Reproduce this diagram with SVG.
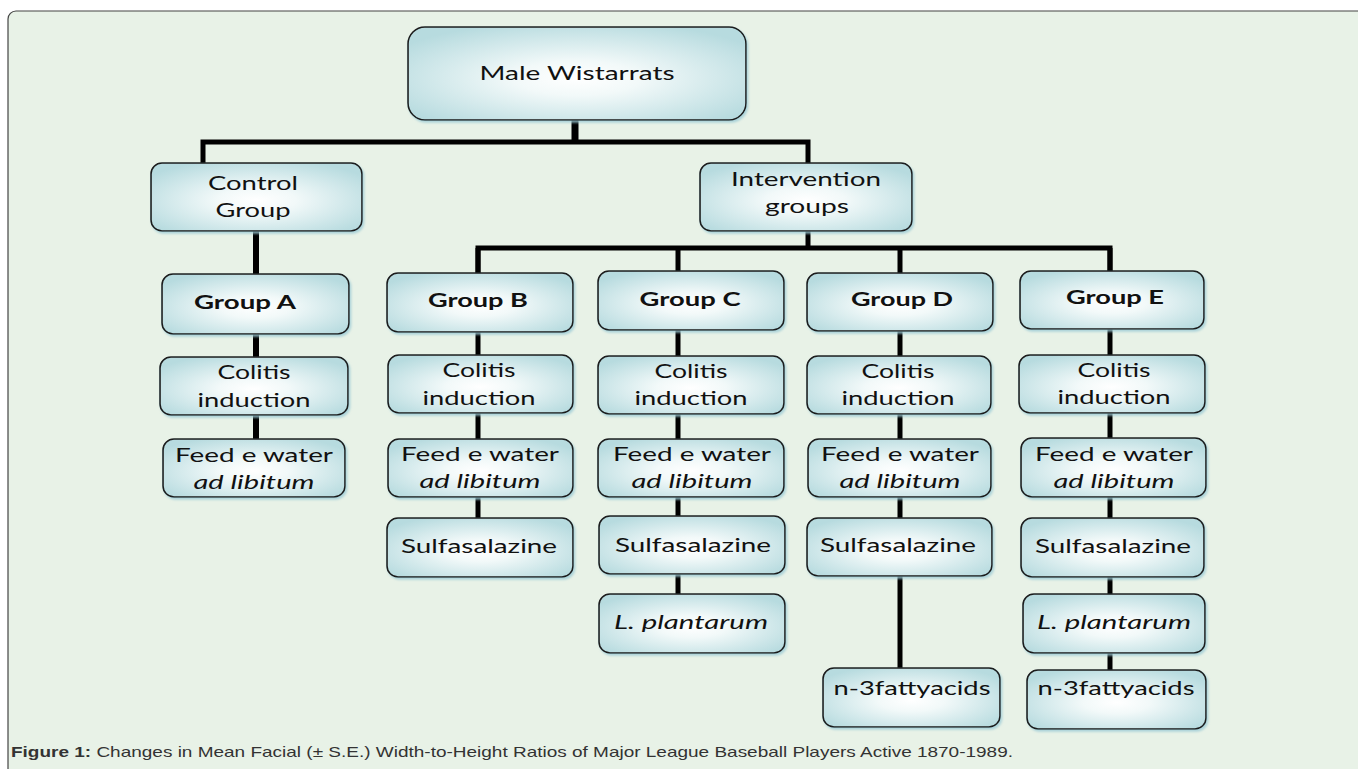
<svg xmlns="http://www.w3.org/2000/svg" width="1358" height="769" viewBox="0 0 1358 769">
<defs>
<radialGradient id="g" cx="50%" cy="55%" r="62%">
<stop offset="0" stop-color="#ffffff"/>
<stop offset="0.3" stop-color="#f2f9f9"/>
<stop offset="1" stop-color="#b7dbdf"/>
</radialGradient>
<filter id="sh" x="-5%" y="-5%" width="112%" height="115%">
<feDropShadow dx="1.5" dy="2" stdDeviation="0.8" flood-color="#9ccbd6" flood-opacity="0.8"/>
</filter>
</defs>
<style>
.b{fill:url(#g);stroke:#1b1b1b;stroke-width:1.6;filter:url(#sh)}
.t{font-family:Lato,"Open Sans",sans-serif;font-size:18.5px;fill:#111;text-anchor:middle}
.bold{font-weight:bold}
.it{font-style:italic}
.c{stroke:#000;fill:none;stroke-linejoin:miter;stroke-linecap:butt}
</style>
<rect x="0" y="0" width="1358" height="769" fill="#ffffff"/>
<rect x="8" y="11" width="1370" height="790" rx="8" fill="#e8f2e7" stroke="#444" stroke-width="1.2"/>
<g id="connectors">
<line class="c" x1="575" y1="120" x2="575" y2="144" stroke-width="7"/>
<path class="c" d="M203,163 V142 H808 V163" stroke-width="5"/>
<line class="c" x1="256" y1="231" x2="256" y2="440" stroke-width="6"/>
<line class="c" x1="808" y1="231" x2="808" y2="250" stroke-width="5"/>
<path class="c" d="M478,274 V248 H1110 V274" stroke-width="5"/>
<line class="c" x1="478" y1="248" x2="478" y2="519" stroke-width="5"/>
<line class="c" x1="678" y1="248" x2="678" y2="595" stroke-width="5"/>
<line class="c" x1="900" y1="248" x2="900" y2="669" stroke-width="5"/>
<line class="c" x1="1110" y1="248" x2="1110" y2="671" stroke-width="5"/>
</g>
<g id="n-top"><rect class="b" x="408" y="27" width="338" height="93" rx="17"/><text class="t" x="577" y="80" textLength="195" lengthAdjust="spacingAndGlyphs">Male Wistarrats</text></g>
<g id="n-control"><rect class="b" x="151" y="163" width="211" height="68" rx="11"/><text class="t" x="253" y="190" textLength="90" lengthAdjust="spacingAndGlyphs">Control</text><text class="t" x="253" y="217" textLength="75" lengthAdjust="spacingAndGlyphs">Group</text></g>
<g id="n-interv"><rect class="b" x="700" y="163" width="212" height="68" rx="11"/><text class="t" x="806" y="186" textLength="150" lengthAdjust="spacingAndGlyphs">Intervention</text><text class="t" x="807" y="213" textLength="84" lengthAdjust="spacingAndGlyphs">groups</text></g>

<g id="n-gA"><rect class="b" x="162" y="274" width="187" height="60" rx="11"/><text class="t bold" x="245" y="309" textLength="102" lengthAdjust="spacingAndGlyphs">Group A</text></g>
<g id="n-cA"><rect class="b" x="160" y="357" width="188" height="58" rx="11"/><text class="t" x="254" y="379" textLength="73" lengthAdjust="spacingAndGlyphs">Colitis</text><text class="t" x="254" y="407" textLength="113" lengthAdjust="spacingAndGlyphs">induction</text></g>
<g id="n-fA"><rect class="b" x="163" y="439" width="182" height="58" rx="11"/><text class="t" x="254" y="462" textLength="158" lengthAdjust="spacingAndGlyphs">Feed e water</text><text class="t it" x="254" y="489" textLength="121" lengthAdjust="spacingAndGlyphs">ad libitum</text></g>

<g id="n-gB"><rect class="b" x="387" y="273" width="186" height="59" rx="11"/><text class="t bold" x="478" y="307" textLength="100" lengthAdjust="spacingAndGlyphs">Group B</text></g>
<g id="n-cB"><rect class="b" x="388" y="355" width="185" height="58" rx="11"/><text class="t" x="479" y="377" textLength="73" lengthAdjust="spacingAndGlyphs">Colitis</text><text class="t" x="479" y="405" textLength="113" lengthAdjust="spacingAndGlyphs">induction</text></g>
<g id="n-fB"><rect class="b" x="388" y="439" width="185" height="58" rx="11"/><text class="t" x="480" y="461" textLength="158" lengthAdjust="spacingAndGlyphs">Feed e water</text><text class="t it" x="480" y="488" textLength="121" lengthAdjust="spacingAndGlyphs">ad libitum</text></g>
<g id="n-sB"><rect class="b" x="387" y="518" width="186" height="59" rx="11"/><text class="t" x="479" y="553" textLength="156" lengthAdjust="spacingAndGlyphs">Sulfasalazine</text></g>

<g id="n-gC"><rect class="b" x="598" y="271" width="186" height="59" rx="11"/><text class="t bold" x="690" y="306" textLength="101" lengthAdjust="spacingAndGlyphs">Group C</text></g>
<g id="n-cC"><rect class="b" x="598" y="356" width="186" height="58" rx="11"/><text class="t" x="691" y="378" textLength="73" lengthAdjust="spacingAndGlyphs">Colitis</text><text class="t" x="691" y="405" textLength="113" lengthAdjust="spacingAndGlyphs">induction</text></g>
<g id="n-fC"><rect class="b" x="598" y="439" width="186" height="58" rx="11"/><text class="t" x="692" y="461" textLength="158" lengthAdjust="spacingAndGlyphs">Feed e water</text><text class="t it" x="692" y="488" textLength="121" lengthAdjust="spacingAndGlyphs">ad libitum</text></g>
<g id="n-sC"><rect class="b" x="599" y="516" width="186" height="58" rx="11"/><text class="t" x="693" y="552" textLength="156" lengthAdjust="spacingAndGlyphs">Sulfasalazine</text></g>
<g id="n-lC"><rect class="b" x="599" y="594" width="186" height="59" rx="11"/><text class="t it" x="691" y="629" textLength="154" lengthAdjust="spacingAndGlyphs">L. plantarum</text></g>

<g id="n-gD"><rect class="b" x="807" y="273" width="186" height="58" rx="11"/><text class="t bold" x="902" y="306" textLength="102" lengthAdjust="spacingAndGlyphs">Group D</text></g>
<g id="n-cD"><rect class="b" x="807" y="356" width="184" height="58" rx="11"/><text class="t" x="898" y="378" textLength="73" lengthAdjust="spacingAndGlyphs">Colitis</text><text class="t" x="898" y="405" textLength="113" lengthAdjust="spacingAndGlyphs">induction</text></g>
<g id="n-fD"><rect class="b" x="808" y="439" width="183" height="58" rx="11"/><text class="t" x="900" y="461" textLength="158" lengthAdjust="spacingAndGlyphs">Feed e water</text><text class="t it" x="900" y="488" textLength="121" lengthAdjust="spacingAndGlyphs">ad libitum</text></g>
<g id="n-sD"><rect class="b" x="807" y="518" width="185" height="58" rx="11"/><text class="t" x="898" y="552" textLength="156" lengthAdjust="spacingAndGlyphs">Sulfasalazine</text></g>
<g id="n-nD"><rect class="b" x="823" y="668" width="177" height="59" rx="11"/><text class="t" x="912" y="695" textLength="157" lengthAdjust="spacingAndGlyphs">n-3fattyacids</text></g>

<g id="n-gE"><rect class="b" x="1020" y="271" width="184" height="58" rx="11"/><text class="t bold" x="1115" y="304" textLength="98" lengthAdjust="spacingAndGlyphs">Group E</text></g>
<g id="n-cE"><rect class="b" x="1019" y="355" width="186" height="58" rx="11"/><text class="t" x="1114" y="377" textLength="73" lengthAdjust="spacingAndGlyphs">Colitis</text><text class="t" x="1114" y="404" textLength="113" lengthAdjust="spacingAndGlyphs">induction</text></g>
<g id="n-fE"><rect class="b" x="1021" y="438" width="185" height="59" rx="11"/><text class="t" x="1114" y="461" textLength="158" lengthAdjust="spacingAndGlyphs">Feed e water</text><text class="t it" x="1114" y="488" textLength="121" lengthAdjust="spacingAndGlyphs">ad libitum</text></g>
<g id="n-sE"><rect class="b" x="1021" y="518" width="183" height="59" rx="11"/><text class="t" x="1113" y="553" textLength="156" lengthAdjust="spacingAndGlyphs">Sulfasalazine</text></g>
<g id="n-lE"><rect class="b" x="1023" y="594" width="182" height="59" rx="11"/><text class="t it" x="1114" y="629" textLength="154" lengthAdjust="spacingAndGlyphs">L. plantarum</text></g>
<g id="n-nE"><rect class="b" x="1027" y="670" width="179" height="59" rx="11"/><text class="t" x="1116" y="695" textLength="157" lengthAdjust="spacingAndGlyphs">n-3fattyacids</text></g>

<text x="11" y="757" font-family="'Liberation Sans',Arial,sans-serif" font-size="14.5" fill="#333" textLength="1002" lengthAdjust="spacingAndGlyphs"><tspan font-weight="bold">Figure 1:</tspan> Changes in Mean Facial (± S.E.) Width-to-Height Ratios of Major League Baseball Players Active 1870-1989.</text>
</svg>
